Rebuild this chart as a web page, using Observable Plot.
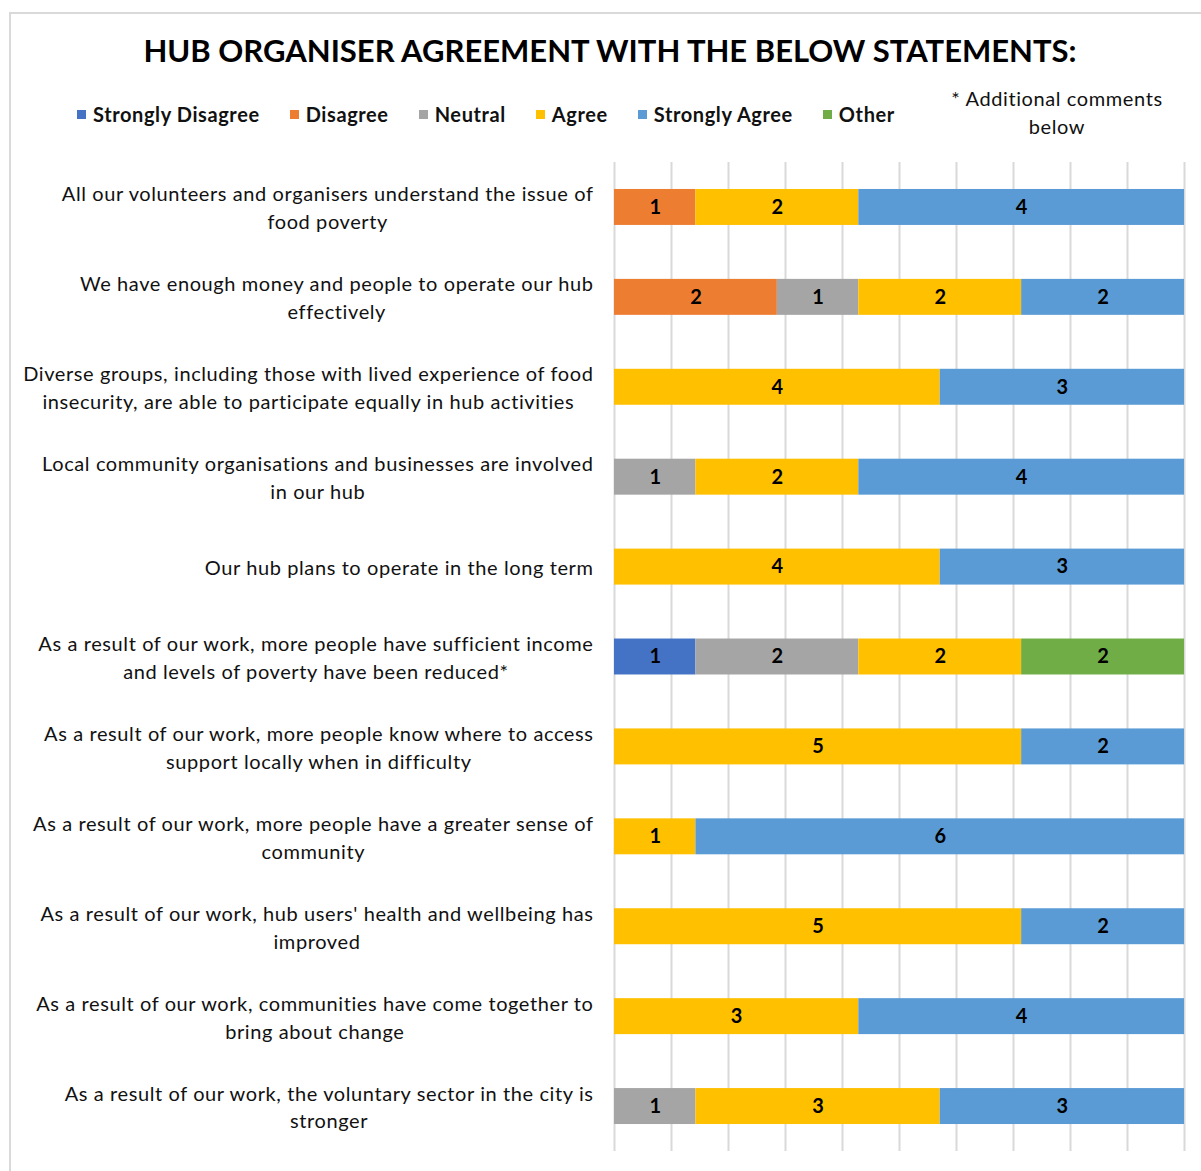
<!DOCTYPE html>
<html><head><meta charset="utf-8">
<script src="https://cdn.jsdelivr.net/npm/d3@7"></script>
<script src="https://cdn.jsdelivr.net/npm/@observablehq/plot@0.6"></script>
<style>
body{margin:0;background:#fff;font-family:Lato,"Open Sans",sans-serif;color:#000;}
#wrap{position:relative;width:1201px;height:1171px;overflow:hidden;}
#frame{position:absolute;left:9px;top:12px;width:1300px;height:1300px;border:2px solid #d9d9d9;box-sizing:border-box;pointer-events:none}
#header{position:relative;height:150px}
#title{position:absolute;left:0;width:1220px;top:31px;text-align:center;font-weight:700;font-size:31px;line-height:38px;color:#000}
#legend{position:absolute;left:77px;top:101px;display:flex;gap:30px;font-weight:700;font-size:20px;letter-spacing:0.6px;line-height:26px;color:#111}
.item{display:flex;align-items:center;gap:7px}
.sw{width:9px;height:9px;display:inline-block}
#note{position:absolute;left:907px;width:300px;top:84px;text-align:center;font-size:20px;letter-spacing:0.6px;line-height:28px;color:#111}
#chart{position:relative}
</style>
</head><body>
<div id="wrap">
  <div id="frame"></div>
  <div id="header">
    <div id="title"></div>
    <div id="legend"></div>
    <div id="note"></div>
  </div>
  <div id="chart"></div>
</div>
<script>
const titleText = "HUB ORGANISER AGREEMENT WITH THE BELOW STATEMENTS:";
const noteLines = ["* Additional comments", "below"];

const statements = [
  "All our volunteers and organisers understand the issue of\nfood poverty",
  "We have enough money and people to operate our hub\neffectively",
  "Diverse groups, including those with lived experience of food\ninsecurity, are able to participate equally in hub activities",
  "Local community organisations and businesses are involved\nin our hub",
  "Our hub plans to operate in the long term",
  "As a result of our work, more people have sufficient income\nand levels of poverty have been reduced*",
  "As a result of our work, more people know where to access\nsupport locally when in difficulty",
  "As a result of our work, more people have a greater sense of\ncommunity",
  "As a result of our work, hub users' health and wellbeing has\nimproved",
  "As a result of our work, communities have come together to\nbring about change",
  "As a result of our work, the voluntary sector in the city is\nstronger"
];

const categories = ["Strongly Disagree", "Disagree", "Neutral", "Agree", "Strongly Agree", "Other"];
const colors = ["#4472C4", "#ED7D31", "#A5A5A5", "#FFC000", "#5B9BD5", "#70AD47"];

const stronglyDisagree = [0, 0, 0, 0, 0, 1, 0, 0, 0, 0, 0];
const disagree         = [1, 2, 0, 0, 0, 0, 0, 0, 0, 0, 0];
const neutral          = [0, 1, 0, 1, 0, 2, 0, 0, 0, 0, 1];
const agree            = [2, 2, 4, 2, 4, 2, 5, 1, 5, 3, 3];
const stronglyAgree    = [4, 2, 3, 4, 3, 0, 2, 6, 2, 4, 3];
const other            = [0, 0, 0, 0, 0, 2, 0, 0, 0, 0, 0];

const gridTicks = [0, 0.7, 1.4, 2.1, 2.8, 3.5, 4.2, 4.9, 5.6, 6.3, 7];

const seriesValues = [stronglyDisagree, disagree, neutral, agree, stronglyAgree, other];
const rows = [];
statements.forEach((s, i) => {
  categories.forEach((c, j) => {
    const v = seriesValues[j][i];
    if (v > 0) rows.push({statement: s, category: c, value: v});
  });
});

// header
document.getElementById("title").textContent = titleText;
const legend = d3.select("#legend");
categories.forEach((c, i) => {
  const it = legend.append("div").attr("class", "item");
  it.append("span").attr("class", "sw").style("background", colors[i]);
  it.append("span").text(c);
});
document.getElementById("note").innerHTML = noteLines.join("<br>");

const plot = Plot.plot({
  width: 1201,
  height: 1021,
  marginTop: 12,
  marginBottom: 20,
  marginLeft: 614,
  marginRight: 17,
  style: {fontFamily: "Lato, 'Open Sans', sans-serif", fontSize: "20px", background: "transparent"},
  x: {domain: [0, 7], axis: null},
  y: {domain: statements, axis: null, paddingInner: 0.6, paddingOuter: 0.3, round: false},
  color: {domain: categories, range: colors},
  marks: [
    Plot.ruleX(gridTicks, {x: d => d, stroke: "#d9d9d9", strokeWidth: 2}),
    Plot.barX(rows, Plot.stackX({x: "value", y: "statement", fill: "category", order: categories})),
    Plot.text(rows, Plot.stackX({x: "value", y: "statement", z: "category", order: categories, text: d => String(d.value), fontWeight: "bold", fontSize: 20, fill: "#000"})),
    Plot.text(statements, {y: d => d, text: d => d, frameAnchor: "left", textAnchor: "end", dx: -21, dy: -1, lineHeight: 1.4, fontSize: 20, fill: "#111"})
  ]
});
document.getElementById("chart").appendChild(plot);

// row labels: letter spacing + center lines within their block (as the original does)
const textGroups = plot.querySelectorAll('g[aria-label="text"]');
const labelGroup = textGroups[textGroups.length - 1];
labelGroup.style.letterSpacing = "0.6px";
labelGroup.querySelectorAll("text").forEach(function(t) {
  const tspans = t.querySelectorAll("tspan");
  if (tspans.length < 2) return;
  const bb = t.getBBox();
  const cx = bb.x + bb.width / 2;
  t.setAttribute("text-anchor", "middle");
  tspans.forEach(s => s.setAttribute("x", cx));
});
</script>
</body></html>
